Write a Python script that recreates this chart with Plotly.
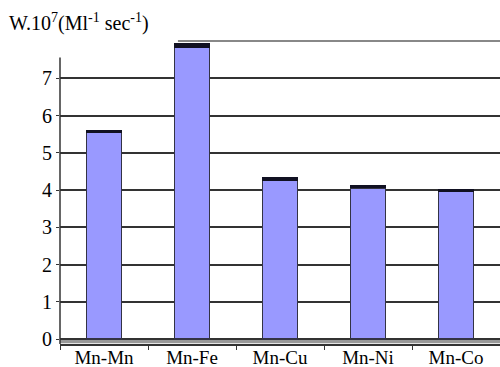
import plotly.graph_objects as go

categories = ["Mn-Mn", "Mn-Fe", "Mn-Cu", "Mn-Ni", "Mn-Co"]
values = [5.54, 7.82, 4.27, 4.06, 3.96]
cap = [0.06, 0.12, 0.06, 0.05, 0.05]
y_ticks = [0, 1, 2, 3, 4, 5, 6, 7]

SERIF = "Liberation Serif"

fig = go.Figure()
fig.add_trace(go.Bar(
    x=categories, y=values,
    marker=dict(color="#9999FF", line=dict(color="#333344", width=1.5)),
    width=0.4,
))
fig.add_trace(go.Bar(
    x=categories, y=cap,
    marker=dict(color="#111122", line=dict(color="#111122", width=1)),
    width=0.4,
))

y_top = 8.0
axis_top = 7.56

fig.update_layout(
    barmode="stack",
    width=500, height=367,
    margin=dict(l=60, r=0, t=41, b=23, autoexpand=False),
    paper_bgcolor="white", plot_bgcolor="white",
    showlegend=False,
    font=dict(family=SERIF, size=20, color="black"),
    xaxis=dict(
        type="category", automargin=False,
        showline=True, linecolor="#333", linewidth=1.5,
        ticks="outside", ticklen=4, tickcolor="#333", tickson="boundaries",
        showgrid=False,
        ticklabelstandoff=-5,
        tickfont=dict(family=SERIF, size=19),
    ),
    yaxis=dict(
        range=[-0.13, y_top], automargin=False,
        tickvals=y_ticks,
        showline=False,
        ticks="outside", ticklen=3, tickcolor="#333",
        showgrid=True, gridcolor="#333", gridwidth=1.5,
        zeroline=False,
        tickfont=dict(family=SERIF, size=20),
    ),
    shapes=[
        dict(type="rect", xref="paper", yref="y", x0=0, x1=1, y0=-0.11, y1=0.03,
             fillcolor="#999999", line=dict(width=0), layer="below"),
        dict(type="line", xref="paper", yref="y", x0=0, x1=0,
             y0=-0.13, y1=axis_top, line=dict(color="#333", width=1.5)),
        dict(type="line", xref="paper", yref="paper", x0=0.268, x1=1.0,
             y0=1.0, y1=1.0, line=dict(color="#888888", width=2)),
    ],
    annotations=[
        dict(text="W.10<sup>7</sup>(Ml<sup>-1</sup> sec<sup>-1</sup>)",
             xref="paper", yref="paper", x=-0.12, y=1 + (41 - 22) / 303,
             xanchor="left", yanchor="middle", showarrow=False,
             font=dict(family=SERIF, size=20, color="black")),
    ],
)

fig.write_html("out.html", config={"displayModeBar": False},
               post_script="document.body.style.margin='0';document.body.style.overflow='hidden';")
